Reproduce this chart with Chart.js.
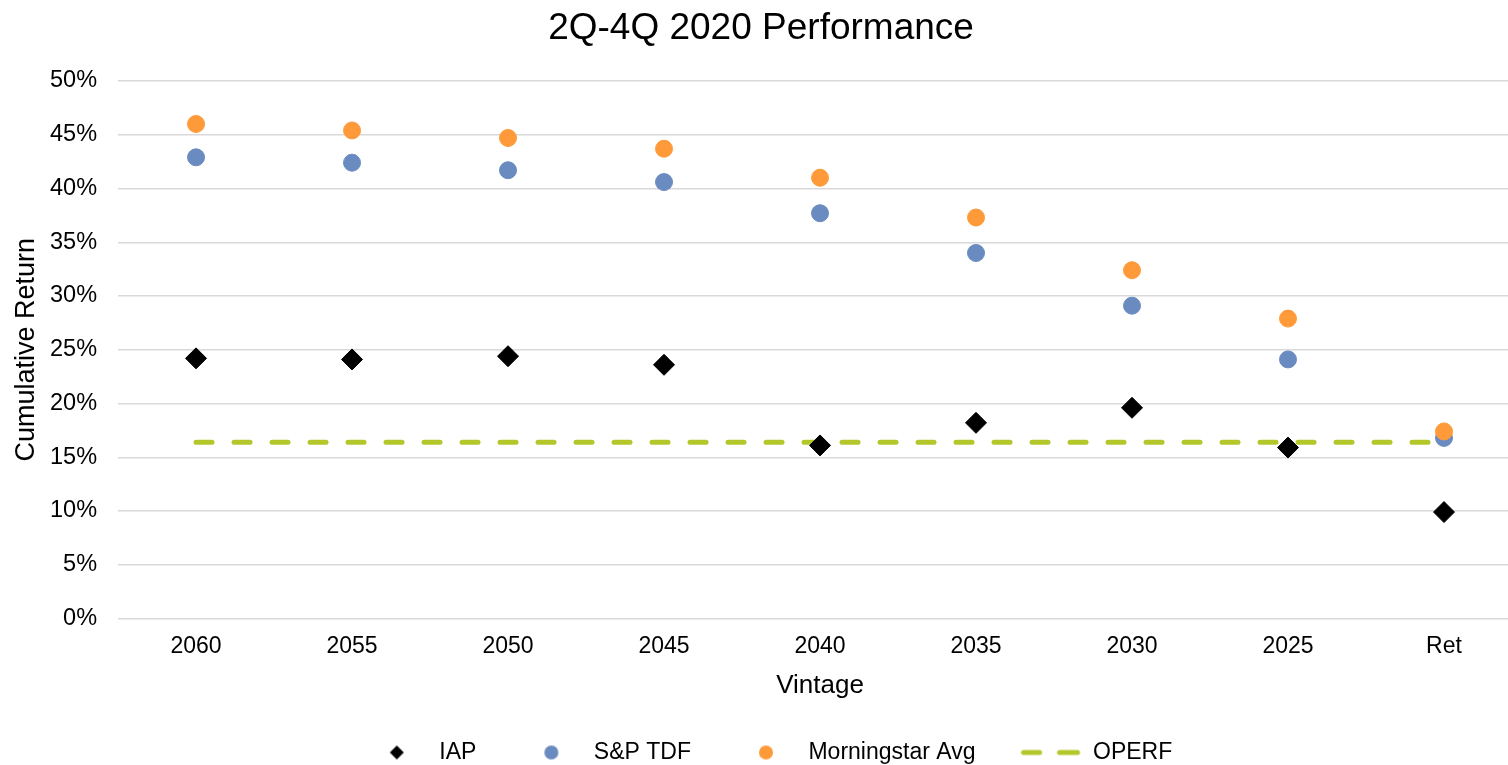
<!DOCTYPE html>
<html>
<head>
<meta charset="utf-8">
<script src="https://cdn.jsdelivr.net/npm/chart.js@4"></script>
<style>
  html, body { margin: 0; padding: 0; background: #fff; overflow: hidden; }
  #wrap { width: 1522px; height: 765px; }
</style>
</head>
<body>
<div id="wrap"><canvas id="myChart"></canvas></div>
<script>
Chart.defaults.font.family = '"Liberation Sans", Arial, sans-serif';
Chart.defaults.color = '#000';

// vintages and series (in %)
const vintages = ['2060', '2055', '2050', '2045', '2040', '2035', '2030', '2025', 'Ret'];
const iap = [24.2, 24.1, 24.4, 23.6, 16.1, 18.2, 19.6, 15.9, 9.9];
const spTdf = [42.9, 42.4, 41.7, 40.6, 37.7, 34.0, 29.1, 24.1, 16.8];
const morningstar = [46.0, 45.4, 44.7, 43.7, 41.0, 37.3, 32.4, 27.9, 17.4];
const operf = [16.4, 16.4, 16.4, 16.4, 16.4, 16.4, 16.4, 16.4, 16.4];
const yTicks = [0, 5, 10, 15, 20, 25, 30, 35, 40, 45, 50];

const GREEN = '#b3c72b';
const ORANGE = '#ff9a3a';
const BLUE = '#6a8bbf';

// little pictures for the legend symbols
function makeIcon(w, h, draw) {
    const c = document.createElement('canvas');
    c.width = w; c.height = h;
    draw(c.getContext('2d'));
    return c;
}
const diamondIcon = makeIcon(16, 16, g => {
    g.fillStyle = '#000';
    g.beginPath();
    g.moveTo(8, 1); g.lineTo(15, 8); g.lineTo(8, 15); g.lineTo(1, 8);
    g.closePath(); g.fill();
});
const dotIcon = col => makeIcon(16, 16, g => {
    g.fillStyle = col;
    g.beginPath(); g.arc(8, 8, 7, 0, Math.PI * 2); g.fill();
});
const dashIcon = makeIcon(62, 8, g => {
    g.strokeStyle = GREEN;
    g.lineWidth = 5;
    g.lineCap = 'round';
    g.beginPath();
    g.moveTo(4, 4); g.lineTo(20, 4);
    g.moveTo(40, 4); g.lineTo(58, 4);
    g.stroke();
});
const legendIcons = [diamondIcon, dotIcon(BLUE), dotIcon(ORANGE), dashIcon];

// nudge legend a bit to the right, like the original
const legendShift = {
    id: 'legendShift',
    afterLayout(chart) {
        if (chart.legend) {
            chart.legend.left += 8;
            chart.legend.right += 8;
        }
    }
};

var ctx = document.getElementById('myChart').getContext('2d');
new Chart(ctx, {
    type: 'line',
    plugins: [legendShift],
    data: {
        labels: vintages,
        datasets: [{
            label: 'IAP',
            data: iap,
            showLine: false,
            pointStyle: 'rectRot',
            pointRadius: 10.5,
            pointHoverRadius: 10.5,
            backgroundColor: '#000',
            borderColor: '#000',
            order: 0
        },
        {
            label: 'S&P TDF',
            data: spTdf,
            showLine: false,
            pointStyle: 'circle',
            pointRadius: 8.5,
            pointHoverRadius: 8.5,
            backgroundColor: BLUE,
            borderColor: BLUE,
            order: 2
        },
        {
            label: 'Morningstar Avg',
            data: morningstar,
            showLine: false,
            pointStyle: 'circle',
            pointRadius: 8.5,
            pointHoverRadius: 8.5,
            backgroundColor: ORANGE,
            borderColor: ORANGE,
            order: 1
        },
        {
            label: 'OPERF',
            data: operf,
            borderColor: GREEN,
            backgroundColor: GREEN,
            borderWidth: 5,
            borderDash: [16, 22],
            borderCapStyle: 'round',
            pointRadius: 0,
            pointHoverRadius: 0,
            fill: false,
            order: 3
        }]
    },
    options: {
        responsive: true,
        maintainAspectRatio: false,
        animation: false,
        layout: { autoPadding: false, padding: 0 },
        plugins: {
            title: {
                display: true,
                text: '2Q-4Q 2020 Performance',
                font: { size: 37, weight: 'normal' },
                color: '#000',
                padding: { top: 7, bottom: 29.6 }
            },
            legend: {
                position: 'bottom',
                maxHeight: 68,
                labels: {
                    usePointStyle: true,
                    pointStyleWidth: 62,
                    padding: 44,
                    font: { size: 23 },
                    color: '#000',
                    sort: (a, b) => a.datasetIndex - b.datasetIndex,
                    generateLabels: chart => {
                        const items = Chart.defaults.plugins.legend.labels.generateLabels(chart);
                        items.forEach(it => { it.pointStyle = legendIcons[it.datasetIndex]; });
                        return items;
                    }
                }
            },
            tooltip: { enabled: false }
        },
        scales: {
            x: {
                offset: true,
                grid: { display: false, drawTicks: false },
                border: { display: false },
                ticks: { font: { size: 23 }, padding: 14, color: '#000' },
                title: {
                    display: true,
                    text: 'Vintage',
                    font: { size: 26 },
                    color: '#000',
                    padding: { top: -4, bottom: -4.3 }
                }
            },
            y: {
                min: yTicks[0],
                max: yTicks[yTicks.length - 1],
                afterBuildTicks: axis => { axis.ticks = yTicks.map(v => ({ value: v })); },
                grid: { color: '#d9d9d9', lineWidth: 1.5, drawTicks: false },
                border: { display: false },
                ticks: {
                    font: { size: 23.5 },
                    padding: 21,
                    color: '#000',
                    callback: v => v + '%'
                },
                title: {
                    display: true,
                    text: 'Cumulative Return',
                    font: { size: 27 },
                    color: '#000',
                    padding: { top: 10.8, bottom: -14.2 }
                }
            }
        }
    }
});
</script>
</body>
</html>
